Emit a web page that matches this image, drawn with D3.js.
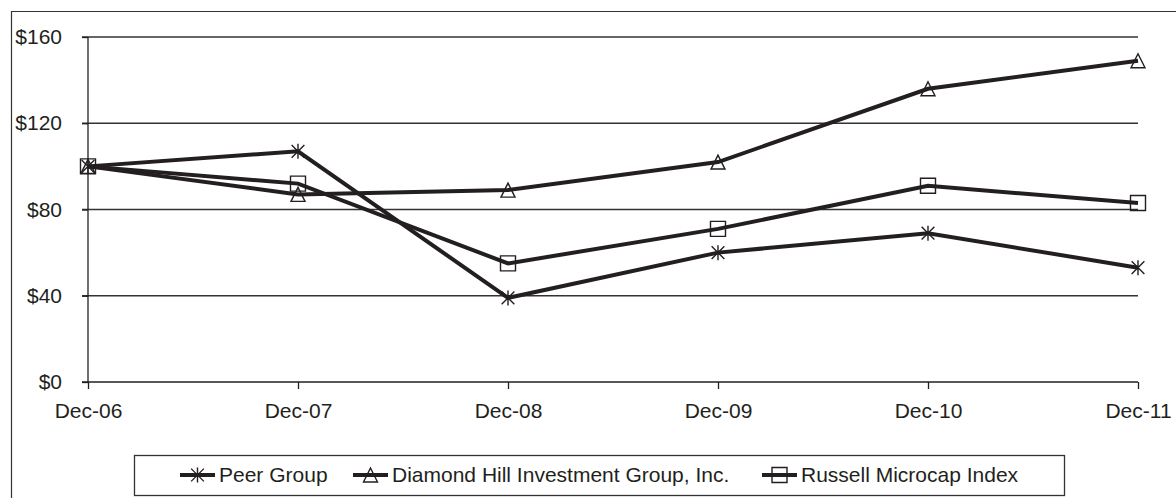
<!DOCTYPE html>
<html><head><meta charset="utf-8">
<script src="https://cdn.jsdelivr.net/npm/d3@7"></script>
<style>
html,body{margin:0;padding:0;background:#fff;}
svg{display:block;font-family:"Liberation Sans",Arial,Helvetica,sans-serif;}
</style></head>
<body>
<svg id="chart" width="1176" height="498"></svg>
<script>
const categories = ["Dec-06","Dec-07","Dec-08","Dec-09","Dec-10","Dec-11"];
const peerGroup = [100, 107, 39, 60, 69, 53];
const diamondHill = [100, 87, 89, 102, 136, 149];
const russellMicrocap = [100, 92, 55, 71, 91, 83];
const yTicks = [0, 40, 80, 120, 160];
const yTickLabels = ["$0","$40","$80","$120","$160"];
const seriesNames = ["Peer Group","Diamond Hill Investment Group, Inc.","Russell Microcap Index"];

const ink = "#231f20";
const FS = 21;
const svg = d3.select("#chart");

// outer frame (only top and left edges fall inside the picture)
svg.append("path").attr("d","M11.5,520V11.5H1200")
  .attr("fill","none").attr("stroke","#333").attr("stroke-width",1.2);

const x = d3.scalePoint().domain(categories).range([88,1138]);
const y = d3.scaleLinear().domain([0,160]).range([382,37]);

// gridlines
svg.append("g").selectAll("line").data(yTicks.filter(d=>d>0)).join("line")
  .attr("x1",82).attr("x2",1138).attr("y1",d=>y(d)).attr("y2",d=>y(d))
  .attr("stroke","#333").attr("stroke-width",1.3);

// y axis
const yAxis = d3.axisLeft(y).tickValues(yTicks).tickSize(6).tickPadding(20)
  .tickFormat((d,i)=>yTickLabels[i]);
const gy = svg.append("g").attr("transform","translate(88,0)").call(yAxis);
gy.select(".domain").attr("stroke",ink).attr("stroke-width",1.3).attr("d","M0,"+y(160)+"V"+y(0));
gy.selectAll(".tick line").attr("stroke",ink).attr("stroke-width",1.3);
gy.selectAll(".tick text").attr("fill",ink).attr("font-size",FS).attr("font-family","Liberation Sans, Arial, sans-serif");

// x axis
const xAxis = d3.axisBottom(x).tickSize(7).tickPadding(14);
const gx = svg.append("g").attr("transform","translate(0,"+y(0)+")").call(xAxis);
gx.select(".domain").attr("stroke",ink).attr("stroke-width",1.3).attr("d","M82,0H1138");
gx.selectAll(".tick line").attr("stroke",ink).attr("stroke-width",1.3);
gx.selectAll(".tick text").attr("fill",ink).attr("font-size",FS).attr("font-family","Liberation Sans, Arial, sans-serif");

// markers
function starPath(s){const h=s/2;return `M0,${-h}V${h}M${-h*0.85},${-h*0.85}L${h*0.85},${h*0.85}M${-h*0.85},${h*0.85}L${h*0.85},${-h*0.85}`;}
function triPath(s){const h=s/2;return `M0,${-h}L${h},${h}L${-h},${h}Z`;}
function sqPath(s){const h=s/2;return `M${-h},${-h}H${h}V${h}H${-h}Z`;}
const markers = [starPath(15), triPath(14), sqPath(15)];

const series = [peerGroup, diamondHill, russellMicrocap];
const line = d3.line().x((d,i)=>x(categories[i])).y(d=>y(d));

series.forEach((vals)=>{
  svg.append("path").datum(vals).attr("d",line).attr("fill","none")
    .attr("stroke",ink).attr("stroke-width",4).attr("stroke-linejoin","miter");
});
series.forEach((vals,si)=>{
  svg.append("g").selectAll("path").data(vals).join("path")
    .attr("transform",(d,i)=>`translate(${x(categories[i])},${y(d)})`)
    .attr("d",markers[si]).attr("fill","none").attr("stroke",ink).attr("stroke-width",1.4);
});

// legend
const lg = svg.append("g");
lg.append("rect").attr("x",134.5).attr("y",455.5).attr("width",930).attr("height",40)
  .attr("fill","#fff").attr("stroke","#333").attr("stroke-width",1.3);
const legendX = [180, 353, 762];
seriesNames.forEach((name,i)=>{
  const g = lg.append("g").attr("transform",`translate(${legendX[i]},475)`);
  g.append("line").attr("x1",0).attr("x2",35).attr("stroke",ink).attr("stroke-width",4);
  g.append("path").attr("transform","translate(17.5,0)").attr("d",markers[i])
    .attr("fill","none").attr("stroke",ink).attr("stroke-width",1.4);
  g.append("text").attr("x",39).attr("y",0).attr("dy","0.35em").attr("font-size",FS)
    .attr("fill",ink).text(name);
});
</script>
</body></html>
